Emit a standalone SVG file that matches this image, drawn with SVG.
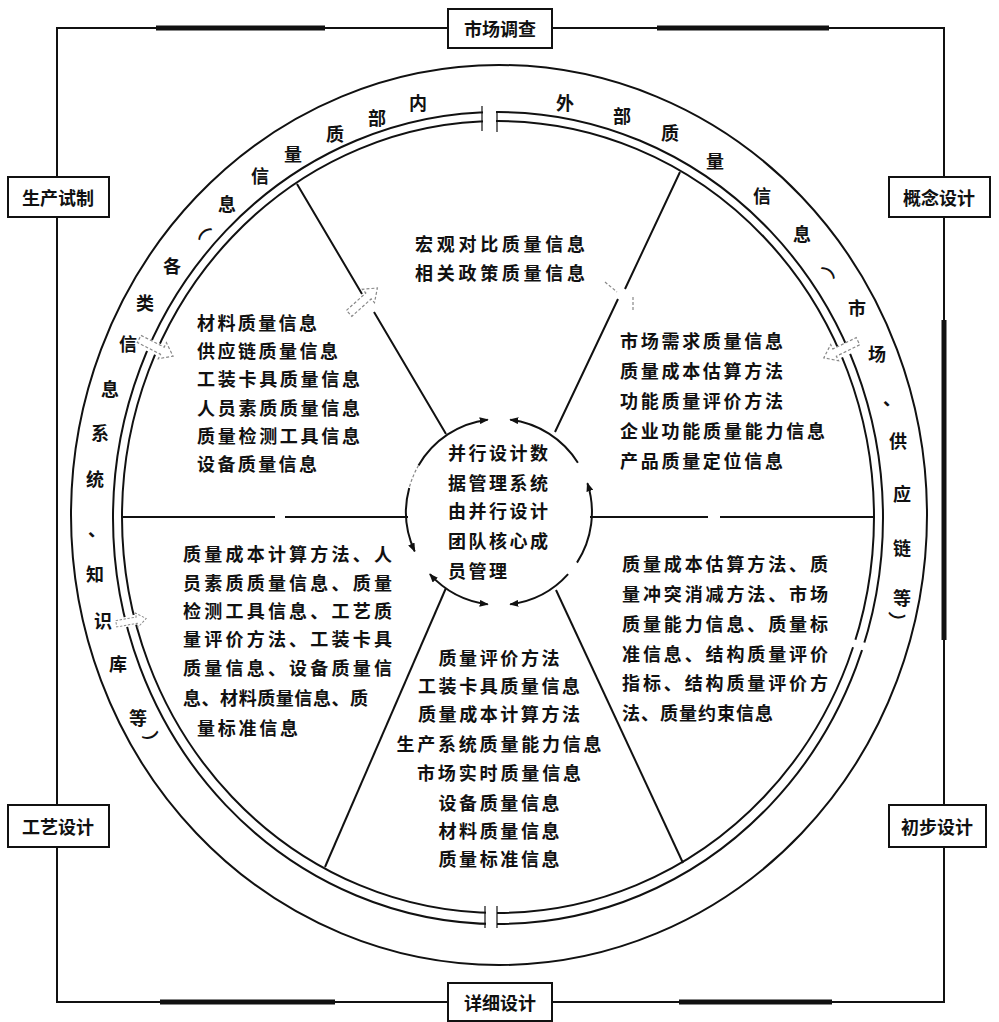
<svg xmlns="http://www.w3.org/2000/svg" width="999" height="1022" viewBox="0 0 999 1022">
<defs>
<style>
.ln{stroke:#111;fill:none;stroke-width:2}
.th{stroke:#111;fill:none;stroke-width:5}
.box{stroke:#111;fill:#fff;stroke-width:2}
.t{font-family:"Noto Sans CJK SC","Noto Sans CJK JP",sans-serif;font-weight:bold;font-size:18px;fill:#111;dominant-baseline:central}
.c{text-anchor:middle}
.gap{fill:#fff;stroke:none}
.ha{fill:none;stroke:#888;stroke-width:1.2;stroke-dasharray:3 2}
.tk{stroke:#111;stroke-width:1.2}
</style>
<marker id="ah" markerWidth="9" markerHeight="7" refX="8" refY="3.5" orient="auto-start-reverse" markerUnits="userSpaceOnUse">
<path d="M0,0 L9,3.5 L0,7 Z" fill="#111"/>
</marker>
<path id="harrow" d="M-20,-4 L6,-4 L6,-9 L18,0 L6,9 L6,4 L-20,4 Z"/>
</defs>
<rect width="999" height="1022" fill="#fff"/>

<g id="frame">
<path class="ln" d="M57,177 V28 H448 M552,28 H944 V177 M57,217 V805 M944,217 V805 M57,847 V1002 H448 M552,1002 H944 V847"/>
<path class="th" d="M156,28 H325 M657,28 H829 M160,1002 H335 M679,1002 H832 M944,320 V640"/>
</g>

<g id="ring">
<ellipse class="ln" cx="499" cy="515" rx="428" ry="450"/>
<ellipse class="ln" cx="498" cy="518" rx="385" ry="406"/>
<ellipse class="ln" cx="498" cy="517" rx="376" ry="396"/>
<rect class="gap" x="483" y="103" width="13" height="30"/>
<rect class="gap" x="486" y="903" width="11" height="28"/>
<rect class="gap" x="-15" y="-6" width="30" height="12" transform="translate(155,348) rotate(24.6)"/>
<rect class="gap" x="-15" y="-6" width="30" height="12" transform="translate(844,350) rotate(-23.8)"/>
<rect class="gap" x="-15" y="-5" width="30" height="10" transform="translate(130,621) rotate(-14)"/>
<rect class="gap" x="-15" y="-4" width="30" height="8" transform="translate(859,645) rotate(17.6)"/>
<path class="tk" d="M482,106 V131 M497,112 V132 M485,906 V928 M497,906 V928"/>
</g>

<g id="connectors">
<path class="ln" d="M297,184 L362,294 M374,312 L446,434"/>
<path class="ln" d="M680,172 L625,289 M618,299 L555,432"/>
<path class="ln" d="M122,517 L275,517 M285,517 L408,517"/>
<path class="ln" d="M590,517 L708,517 M720,517 L875,517"/>
<path class="ln" d="M446,588 L325,867"/>
<path class="ln" d="M556,590 L683,863"/>
<use href="#harrow" class="ha" transform="translate(157,348) rotate(27)"/>
<use href="#harrow" class="ha" transform="translate(840,350) rotate(154)"/>
<use href="#harrow" class="ha" transform="translate(132,621) rotate(-10) scale(0.8)"/>
<use href="#harrow" class="ha" transform="translate(364,300) rotate(-42)"/>
<path class="ha" d="M605,282 L617,292 M633,297 L633,312"/>
</g>

<g id="center-cycle">
<path class="ln" marker-end="url(#ah)" d="M418.5,465.5 A93,93 0 0 1 487.7,419.7"/>
<path class="ln" marker-start="url(#ah)" d="M510.3,419.7 A93,93 0 0 1 577.9,462.7"/>
<path class="ln" marker-start="url(#ah)" d="M587.4,483.3 A93,93 0 0 1 577.0,562.6"/>
<path class="ln" marker-end="url(#ah)" d="M568.1,574.2 A93,93 0 0 1 510.3,604.3"/>
<path class="ln" marker-start="url(#ah)" marker-end="url(#ah)" d="M487.7,604.3 A93,93 0 0 1 429.9,574.2"/>
<path class="ln" marker-end="url(#ah)" d="M409.2,487.9 A93,93 0 0 0 414.7,551.3"/>
<path class="ha" d="M418.5,465.5 A93,93 0 0 0 409.2,487.9"/>
</g>

<g id="node-center">
<text class="t" x="448" y="452" textLength="100">并行设计数</text>
<text class="t" x="448" y="482" textLength="100">据管理系统</text>
<text class="t" x="448" y="510" textLength="100">由并行设计</text>
<text class="t" x="448" y="540" textLength="100">团队核心成</text>
<text class="t" x="448" y="570" textLength="59">员管理</text>
</g>

<g id="node-top">
<text class="t" x="415" y="243" textLength="170">宏观对比质量信息</text>
<text class="t" x="415" y="272" textLength="170">相关政策质量信息</text>
</g>

<g id="node-upper-left">
<text class="t" x="197" y="322" textLength="120">材料质量信息</text>
<text class="t" x="197" y="350" textLength="141">供应链质量信息</text>
<text class="t" x="197" y="378" textLength="163">工装卡具质量信息</text>
<text class="t" x="197" y="407" textLength="163">人员素质质量信息</text>
<text class="t" x="197" y="435" textLength="163">质量检测工具信息</text>
<text class="t" x="197" y="463" textLength="120">设备质量信息</text>
</g>

<g id="node-upper-right">
<text class="t" x="620" y="340" textLength="163">市场需求质量信息</text>
<text class="t" x="620" y="370" textLength="163">质量成本估算方法</text>
<text class="t" x="620" y="400" textLength="163">功能质量评价方法</text>
<text class="t" x="620" y="430" textLength="205">企业功能质量能力信息</text>
<text class="t" x="620" y="460" textLength="163">产品质量定位信息</text>
</g>

<g id="node-lower-left">
<text class="t" x="183" y="553" textLength="209">质量成本计算方法、人</text>
<text class="t" x="183" y="582" textLength="209">员素质质量信息、质量</text>
<text class="t" x="183" y="610" textLength="209">检测工具信息、工艺质</text>
<text class="t" x="183" y="638" textLength="209">量评价方法、工装卡具</text>
<text class="t" x="183" y="667" textLength="209">质量信息、设备质量信</text>
<text class="t" x="183" y="697" textLength="185">息、材料质量信息、质</text>
<text class="t" x="197" y="727" textLength="101">量标准信息</text>
</g>

<g id="node-lower-right">
<text class="t" x="622" y="563" textLength="206">质量成本估算方法、质</text>
<text class="t" x="622" y="593" textLength="206">量冲突消减方法、市场</text>
<text class="t" x="622" y="623" textLength="206">质量能力信息、质量标</text>
<text class="t" x="622" y="653" textLength="206">准信息、结构质量评价</text>
<text class="t" x="622" y="682" textLength="206">指标、结构质量评价方</text>
<text class="t" x="622" y="712" textLength="151">法、质量约束信息</text>
</g>

<g id="node-bottom">
<text class="t c" x="499" y="657" textLength="121">质量评价方法</text>
<text class="t c" x="499" y="685" textLength="162">工装卡具质量信息</text>
<text class="t c" x="499" y="713" textLength="162">质量成本计算方法</text>
<text class="t c" x="499" y="743" textLength="205">生产系统质量能力信息</text>
<text class="t c" x="499" y="772" textLength="164">市场实时质量信息</text>
<text class="t c" x="499" y="802" textLength="121">设备质量信息</text>
<text class="t c" x="499" y="830" textLength="121">材料质量信息</text>
<text class="t c" x="499" y="858" textLength="121">质量标准信息</text>
</g>

<g id="ring-label-internal">
<text class="t c" x="418" y="102">内</text>
<text class="t c" x="377" y="117">部</text>
<text class="t c" x="335" y="133">质</text>
<text class="t c" x="293" y="153">量</text>
<text class="t c" x="260" y="175">信</text>
<text class="t c" x="227" y="203">息</text>
<text class="t c" transform="translate(200,228) rotate(-40)">︵</text>
<text class="t c" x="172" y="265">各</text>
<text class="t c" x="145" y="302">类</text>
<text class="t c" x="128" y="343">信</text>
<text class="t c" x="110" y="388">息</text>
<text class="t c" x="100" y="432">系</text>
<text class="t c" x="95" y="478">统</text>
<text class="t c" x="97" y="528">、</text>
<text class="t c" x="95" y="573">知</text>
<text class="t c" x="103" y="620">识</text>
<text class="t c" x="118" y="663">库</text>
<text class="t c" x="138" y="717">等</text>
<text class="t c" transform="translate(152,740) rotate(-20)">︶</text>
</g>

<g id="ring-label-external">
<text class="t c" x="565" y="102">外</text>
<text class="t c" x="622" y="115">部</text>
<text class="t c" x="670" y="132">质</text>
<text class="t c" x="715" y="160">量</text>
<text class="t c" x="762" y="195">信</text>
<text class="t c" x="802" y="233">息</text>
<text class="t c" transform="translate(833,267) rotate(40)">︵</text>
<text class="t c" x="857" y="307">市</text>
<text class="t c" x="877" y="353">场</text>
<text class="t c" x="892" y="397">、</text>
<text class="t c" x="898" y="440">供</text>
<text class="t c" x="902" y="493">应</text>
<text class="t c" x="902" y="547">链</text>
<text class="t c" x="902" y="597">等</text>
<text class="t c" transform="translate(896,620) rotate(10)">︶</text>
</g>

<g id="node-market">
<rect class="box" x="448" y="9" width="104" height="39"/>
<text class="t c" x="500" y="28">市场调查</text>
</g>
<g id="node-trial">
<rect class="box" x="8" y="177" width="101" height="40"/>
<text class="t c" x="58" y="197">生产试制</text>
</g>
<g id="node-concept">
<rect class="box" x="889" y="177" width="101" height="40"/>
<text class="t c" x="939" y="197">概念设计</text>
</g>
<g id="node-process">
<rect class="box" x="8" y="805" width="101" height="42"/>
<text class="t c" x="58" y="826">工艺设计</text>
</g>
<g id="node-prelim">
<rect class="box" x="889" y="805" width="97" height="42"/>
<text class="t c" x="937" y="826">初步设计</text>
</g>
<g id="node-detail">
<rect class="box" x="448" y="983" width="104" height="38"/>
<text class="t c" x="500" y="1002">详细设计</text>
</g>
</svg>
